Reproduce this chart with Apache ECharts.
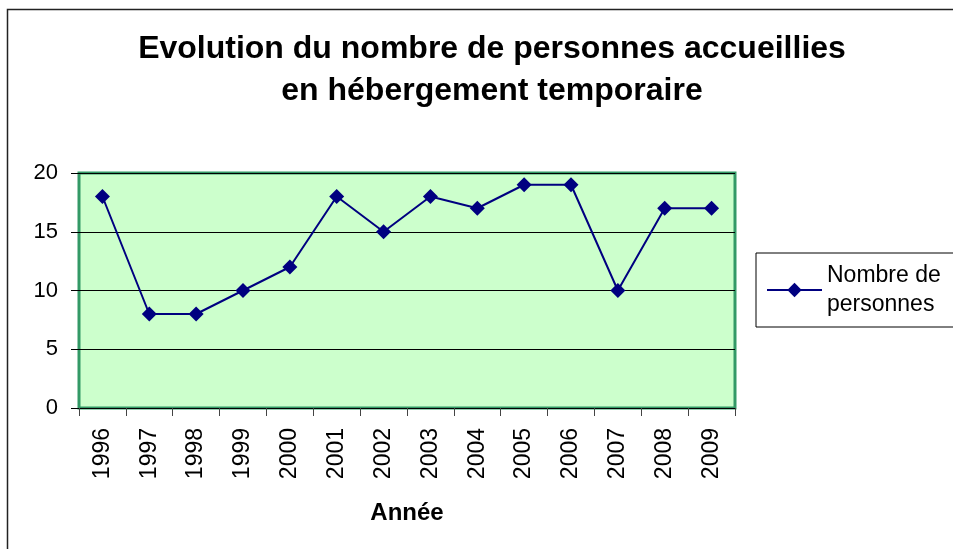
<!DOCTYPE html>
<html style="height:100%;width:100%;">
<head>
  <meta charset="utf-8">
  <title>Evolution hébergement temporaire</title>
  <script src="https://cdn.jsdelivr.net/npm/echarts@6/dist/echarts.min.js"></script>
</head>
<body style="margin:0px;height:100%;width:100%;background:#fff;">
  <div id="main" style="width:953px;height:549px"></div>
  <script type="text/javascript">
    // données
    var annees = ['1996', '1997', '1998', '1999', '2000', '2001', '2002', '2003', '2004', '2005', '2006', '2007', '2008', '2009'];
    var personnes = [18, 8, 8, 10, 12, 18, 15, 18, 17, 19, 19, 10, 17, 17];
    var nomSerie = 'Nombre de personnes';

    var myChart = echarts.init(document.getElementById('main'));
    var font = 'Liberation Sans, Arial, sans-serif';

    var option = {
      backgroundColor: '#ffffff',
      animation: false,
      title: {
        text: 'Evolution du nombre de personnes accueillies\nen hébergement temporaire',
        left: 492,
        top: 28,
        textAlign: 'center',
        padding: 0,
        textStyle: {
          fontFamily: font,
          fontSize: 32,
          fontWeight: 'bold',
          color: '#000',
          lineHeight: 42
        }
      },
      graphic: [{
        type: 'rect',
        silent: true,
        shape: { x: 7.5, y: 9.5, width: 1000, height: 600 },
        style: { fill: 'none', stroke: '#222', lineWidth: 1.5 }
      }],
      legend: {
        data: [nomSerie],
        left: 756,
        top: 253,
        orient: 'vertical',
        padding: [8, 30, 8, 10],
        borderColor: '#000',
        borderWidth: 1,
        itemWidth: 55,
        itemHeight: 18,
        formatter: function () { return 'Nombre de\npersonnes'; },
        textStyle: { fontFamily: font, fontSize: 23, color: '#000', lineHeight: 29 }
      },
      grid: {
        left: 79,
        top: 173,
        width: 656,
        height: 235,
        show: true,
        backgroundColor: '#ccffcc',
        borderColor: '#339966',
        borderWidth: 3
      },
      xAxis: {
        type: 'category',
        data: annees,
        boundaryGap: true,
        name: 'Année',
        nameLocation: 'middle',
        nameGap: 93,
        nameTextStyle: { fontFamily: font, fontSize: 24, fontWeight: 'bold', color: '#000' },
        axisLine: { show: false },
        axisTick: { show: true, interval: 0, length: 8, lineStyle: { color: '#444' } },
        axisLabel: { rotate: 90, interval: 0, margin: 20, fontFamily: font, fontSize: 23, color: '#000' }
      },
      yAxis: {
        type: 'value',
        min: 0,
        max: 20,
        interval: 5,
        axisLine: { show: false },
        axisTick: { show: true, length: 8, lineStyle: { color: '#000' } },
        axisLabel: { margin: 21, fontFamily: font, fontSize: 22, color: '#000' },
        splitLine: { show: true, lineStyle: { color: '#000', width: 1 } }
      },
      series: [{
        name: nomSerie,
        type: 'line',
        data: personnes,
        symbol: 'diamond',
        symbolSize: 15,
        lineStyle: { color: '#000080', width: 2 },
        itemStyle: { color: '#000080' }
      }]
    };

    myChart.setOption(option);
  </script>
</body>
</html>
